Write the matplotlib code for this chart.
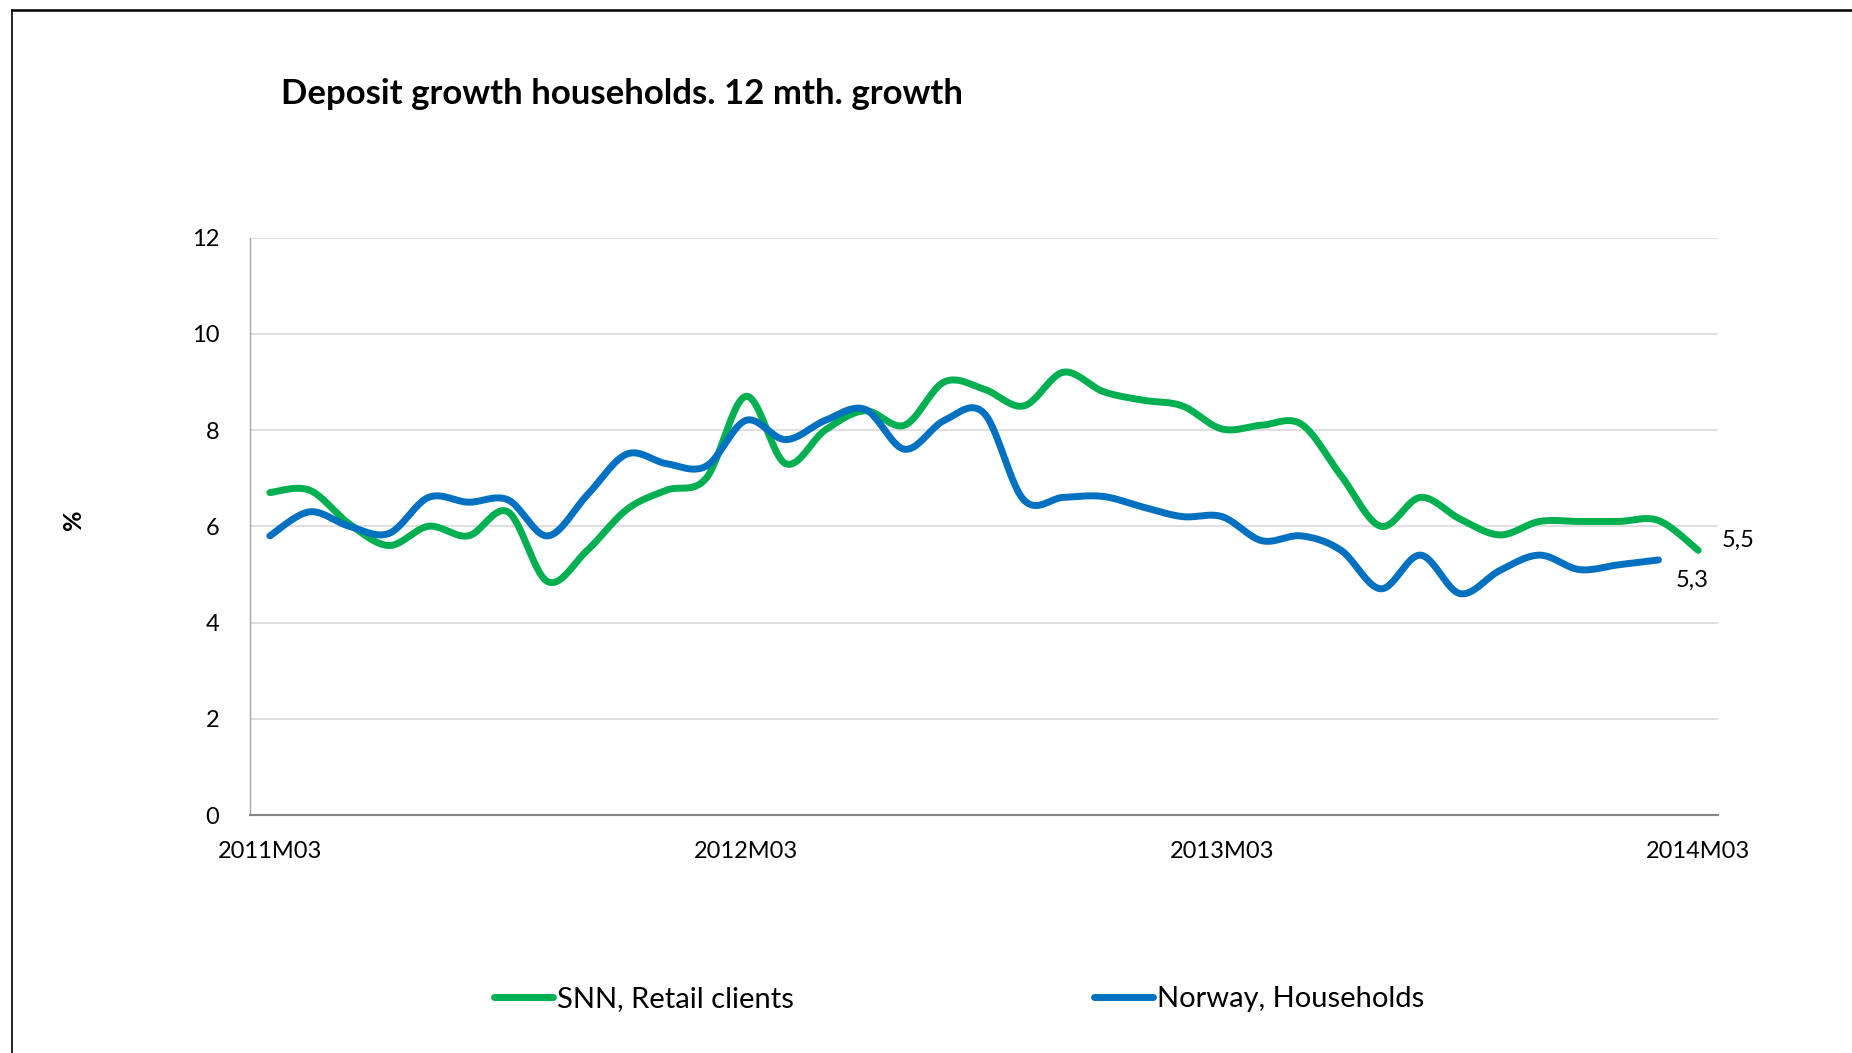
import numpy as np
import matplotlib
matplotlib.use("Agg")
import matplotlib.pyplot as plt
from matplotlib.lines import Line2D

plt.rcParams['font.family'] = ['Lato', 'DejaVu Sans']

# Monthly categories 2011M03 .. 2014M03
months = []
for y in range(2011, 2015):
    for m in range(1, 13):
        if (y == 2011 and m < 3) or (y == 2014 and m > 3):
            continue
        months.append(f"{y}M{m:02d}")

tick_labels = ["2011M03", "2012M03", "2013M03", "2014M03"]

snn_retail = [6.7, 6.75, 6.05, 5.6, 6.0, 5.8, 6.3, 4.85, 5.5, 6.35, 6.75, 7.0,
              8.7, 7.3, 8.0, 8.4, 8.1, 9.0, 8.85, 8.5, 9.2, 8.8, 8.62, 8.5,
              8.02, 8.1, 8.12, 7.05, 6.0, 6.6, 6.15, 5.82, 6.1, 6.1, 6.1, 6.12,
              5.5]
norway_households = [5.8, 6.3, 6.0, 5.85, 6.6, 6.5, 6.55, 5.8, 6.65, 7.5, 7.3, 7.25,
                     8.2, 7.8, 8.2, 8.43, 7.6, 8.2, 8.35, 6.55, 6.6, 6.62, 6.4, 6.2,
                     6.2, 5.7, 5.8, 5.5, 4.7, 5.4, 4.6, 5.08, 5.4, 5.1, 5.2, 5.3]

GREEN = "#00B050"
BLUE = "#0070C0"


def smooth(xs, ys, n=24):
    """Bezier smoothing through every point (spreadsheet-style smoothed line)."""
    xs = np.asarray(xs, float)
    ys = np.asarray(ys, float)
    P = np.column_stack([xs, ys])
    Pp = np.vstack([P[:1], P, P[-1:]])
    out = []
    t = np.linspace(0, 1, n, endpoint=False)[:, None]
    for i in range(len(P) - 1):
        p0, p1, p2, p3 = Pp[i], Pp[i + 1], Pp[i + 2], Pp[i + 3]
        c1 = p1 + (p2 - p0) / 6.0
        c2 = p2 - (p3 - p1) / 6.0
        seg = ((1 - t) ** 3) * p1 + 3 * ((1 - t) ** 2) * t * c1 + 3 * (1 - t) * t ** 2 * c2 + t ** 3 * p2
        out.append(seg)
    out.append(P[-1:])
    arr = np.vstack(out)
    return arr[:, 0], arr[:, 1]


W, H = 1852, 1053
fig = plt.figure(figsize=(W / 100, H / 100), dpi=100)
ax = fig.add_axes([250 / W, 1 - 815 / H, (1718 - 250) / W, (815 - 237.5) / H])

x_snn = np.arange(len(snn_retail))
x_nor = np.arange(len(norway_households))
sx, sy = smooth(x_snn, snn_retail)
nx, ny = smooth(x_nor, norway_households)

ax.plot(sx, sy, color=GREEN, lw=5, solid_capstyle='round', label="SNN, Retail clients", zorder=3)
ax.plot(nx, ny, color=BLUE, lw=5, solid_capstyle='round', label="Norway, Households", zorder=4)

ax.set_xlim(-0.5, len(months) - 0.5)
ax.set_ylim(0, 12)
ax.set_yticks(range(0, 13, 2))
ax.set_xticks([months.index(t) for t in tick_labels])
ax.set_xticklabels(tick_labels)
ax.tick_params(axis='both', length=0, labelsize=17, colors='black')
ax.tick_params(axis='x', pad=19)
ax.tick_params(axis='y', pad=22)
ax.grid(axis='y', color='#d9d9d9', lw=1.2)
ax.set_axisbelow(True)
for s in ['top', 'right']:
    ax.spines[s].set_visible(False)
ax.spines['left'].set_color('#a6a6a6')
ax.spines['left'].set_linewidth(1.0)
ax.spines['bottom'].set_color('#868686')
ax.spines['bottom'].set_linewidth(1.5)

# End-point value labels
ax.annotate(f"{snn_retail[-1]:.1f}".replace('.', ','), (x_snn[-1], snn_retail[-1]),
            xytext=(29, 7.5), textcoords='offset points', ha='center', va='center', fontsize=17)
ax.annotate(f"{norway_households[-1]:.1f}".replace('.', ','), (x_nor[-1], norway_households[-1]),
            xytext=(24, -15), textcoords='offset points', ha='center', va='center', fontsize=17)

# Y axis unit label
fig.text(74 / W, 1 - 520 / H, '%', rotation=90, fontsize=18, fontweight='bold',
         ha='center', va='center')

fig.text(281 / W, 1 - 94.5 / H, "Deposit growth households. 12 mth. growth",
         fontsize=25, fontweight='bold', ha='left', va='center')

fig.legend(loc='center', bbox_to_anchor=(0.518, 1 - 999 / H), ncol=2, frameon=False,
           fontsize=21, handlelength=2.0, handletextpad=0.15, columnspacing=10.3)

# Outer chart frame
fig.add_artist(Line2D([12 / W, 1.0], [1 - 9.5 / H, 1 - 9.5 / H], color='black', lw=1.8,
                      transform=fig.transFigure))
fig.add_artist(Line2D([12 / W, 12 / W], [0.0, 1 - 9.5 / H], color='black', lw=1.2,
                      transform=fig.transFigure))

fig.savefig("out.png", dpi=100, facecolor='white')
